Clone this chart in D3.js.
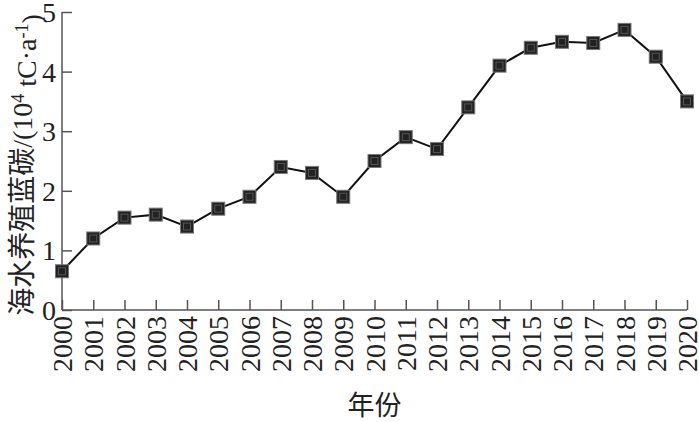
<!DOCTYPE html>
<html>
<head>
<meta charset="utf-8">
<script src="https://cdn.jsdelivr.net/npm/d3@7"></script>
<style>
  body { margin: 0; background: #fff; }
  svg { display: block; }
</style>
</head>
<body>
<svg id="chart"></svg>
<script>
var width = 699, height = 422;
var margin = {top: 12, right: 12, bottom: 112, left: 62};

// data
var years = [2000, 2001, 2002, 2003, 2004, 2005, 2006, 2007, 2008, 2009, 2010,
             2011, 2012, 2013, 2014, 2015, 2016, 2017, 2018, 2019, 2020];
var carbon = [0.65, 1.2, 1.55, 1.6, 1.4, 1.7, 1.9, 2.4, 2.3, 1.9, 2.5,
              2.9, 2.7, 3.4, 4.1, 4.4, 4.5, 4.48, 4.7, 4.25, 3.5];
var yTicks = [0, 1, 2, 3, 4, 5];

var serif = '"Liberation Serif", "Times New Roman", "Noto Sans CJK SC", serif';

var svg = d3.select('#chart').attr('width', width).attr('height', height);

var x = d3.scaleLinear()
    .domain([2000, 2020])
    .range([margin.left, width - margin.right]);
var y = d3.scaleLinear()
    .domain([0, 5])
    .range([height - margin.bottom, margin.top]);

// y axis, ticks pointing inward
var yAxis = svg.append('g')
    .attr('transform', 'translate(' + margin.left + ',0)')
    .call(d3.axisRight(y).tickValues(yTicks).tickSize(10).tickFormat(d3.format('d')));
yAxis.selectAll('text').remove();
yAxis.selectAll('g.tick').append('text')
    .attr('x', -6)
    .attr('dy', '0.34em')
    .attr('text-anchor', 'end')
    .attr('fill', '#222')
    .style('font-family', serif)
    .style('font-size', '28px')
    .text(function(d) { return d; });

// x axis, ticks pointing upward
var xAxis = svg.append('g')
    .attr('transform', 'translate(0,' + (height - margin.bottom) + ')')
    .call(d3.axisTop(x).tickValues(years).tickSize(10).tickFormat(d3.format('d')));
xAxis.selectAll('text').remove();
xAxis.selectAll('g.tick').append('text')
    .attr('transform', 'rotate(-90)')
    .attr('x', -6)
    .attr('dy', '0.34em')
    .attr('text-anchor', 'end')
    .attr('fill', '#222')
    .style('font-family', serif)
    .style('font-size', '28px')
    .text(function(d) { return d; });

svg.selectAll('.domain').attr('stroke', '#555').attr('stroke-width', 1.5);
svg.selectAll('.tick line').attr('stroke', '#555').attr('stroke-width', 1.5);
// drop the outer tick stubs of the domain path
xAxis.select('.domain').attr('d', 'M' + x.range()[0] + ',0H' + x.range()[1]);
yAxis.select('.domain').attr('d', 'M0,' + y.range()[0] + 'V' + y.range()[1]);

// line
var line = d3.line()
    .x(function(d, i) { return x(years[i]); })
    .y(function(d) { return y(d); });

svg.append('path')
    .datum(carbon)
    .attr('d', line)
    .attr('fill', 'none')
    .attr('stroke', '#111')
    .attr('stroke-width', 2);

// square markers
var marks = svg.selectAll('.mark')
    .data(carbon)
    .enter()
    .append('g')
    .attr('class', 'mark')
    .attr('transform', function(d, i) { return 'translate(' + x(years[i]) + ',' + y(d) + ')'; });
marks.append('rect')
    .attr('x', -6.5).attr('y', -6.5)
    .attr('width', 13).attr('height', 13)
    .attr('fill', '#222')
    .attr('stroke', '#777')
    .attr('stroke-width', 1);
marks.append('rect')
    .attr('x', -3.5).attr('y', -3.5)
    .attr('width', 7).attr('height', 7)
    .attr('fill', 'none')
    .attr('stroke', '#555')
    .attr('stroke-width', 1);

// axis titles
var yTitle = svg.append('text')
    .attr('transform', 'translate(22,' + 165 + ') rotate(-90)')
    .attr('text-anchor', 'middle')
    .attr('dy', '0.35em')
    .attr('fill', '#222')
    .style('font-family', serif)
    .style('font-size', '28px');
yTitle.append('tspan').text('海水养殖蓝碳/(10');
yTitle.append('tspan').attr('dy', '-0.45em').style('font-size', '18px').text('4');
yTitle.append('tspan').attr('dy', '0.45em').text(' tC·a');
yTitle.append('tspan').attr('dy', '-0.45em').style('font-size', '18px').text('-1');
yTitle.append('tspan').attr('dy', '0.45em').text(')');

svg.append('text')
    .attr('x', (x.range()[0] + x.range()[1]) / 2)
    .attr('y', 406)
    .attr('dy', '0.35em')
    .attr('text-anchor', 'middle')
    .attr('fill', '#222')
    .style('font-family', serif)
    .style('font-size', '27px')
    .text('年份');
</script>
</body>
</html>
